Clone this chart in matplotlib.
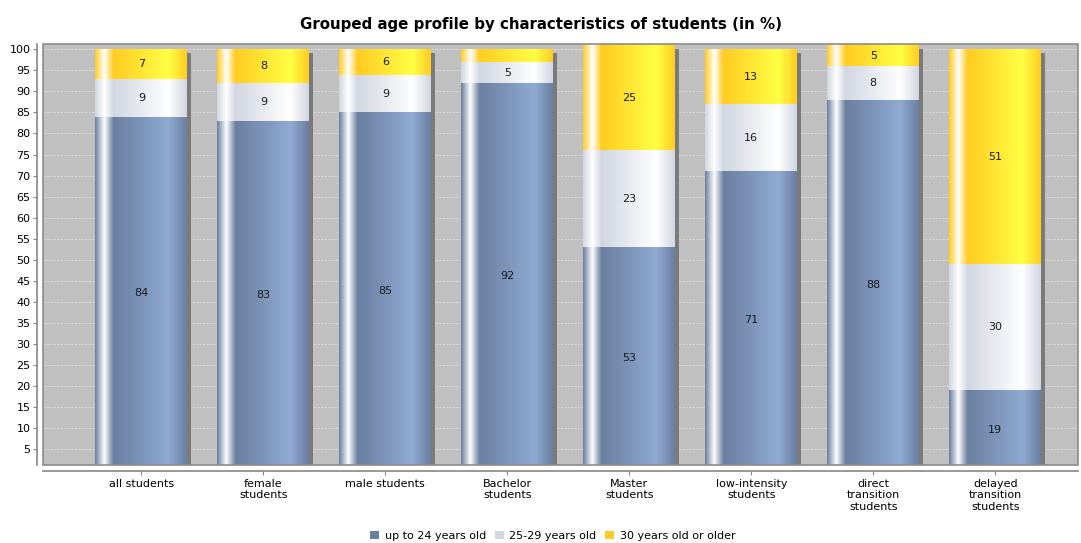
import numpy as np
import matplotlib
matplotlib.use("Agg")
import matplotlib.pyplot as plt
from matplotlib.patches import Patch, Rectangle

categories = ["all students", "female\nstudents", "male students", "Bachelor\nstudents",
              "Master\nstudents", "low-intensity\nstudents", "direct\ntransition\nstudents",
              "delayed\ntransition\nstudents"]
series_names = ["up to 24 years old", "25-29 years old", "30 years old or older"]
up_to_24 = [84, 83, 85, 92, 53, 71, 88, 19]
age_25_29 = [9, 9, 9, 5, 23, 16, 8, 30]
age_30_plus = [7, 8, 6, 3, 25, 13, 5, 51]

# base colour and its brighter variant for each series
base_colors = [(0.415, 0.498, 0.627), (0.82, 0.84, 0.88), (1.0, 0.80, 0.13)]
light_colors = [(0.565, 0.667, 0.827), (1.0, 1.0, 1.0), (1.0, 1.0, 0.27)]


def bar_gradient(c0, c1, n=200):
    # left highlight, then slow brighten, then fall off at the right edge
    t = np.linspace(0, 1, n)
    c0 = np.array(c0)
    c1 = np.array(c1)
    w = np.array([1.0, 1.0, 1.0])
    out = np.zeros((n, 3))
    for i, v in enumerate(t):
        if v < 0.10:
            f = v / 0.10
            out[i] = c0 + (w - c0) * f
        elif v < 0.20:
            f = (v - 0.10) / 0.10
            out[i] = w + (c0 - w) * f
        elif v < 0.80:
            f = (v - 0.20) / 0.60
            out[i] = c0 + (c1 - c0) * f
        else:
            f = (v - 0.80) / 0.20
            out[i] = c1 + (c0 - c1) * f
    return out[np.newaxis, :, :]


fig = plt.figure(figsize=(10.81, 5.43), dpi=100)
fig.patch.set_facecolor("white")
ax = fig.add_axes([43 / 1081, 1 - 465 / 543, 1035 / 1081, 421 / 543])
ax.set_facecolor("#c0c0c0")

ymin, ymax = 1.1, 101.3
xmin, xmax = -0.806, 7.678
ax.set_xlim(xmin, xmax)
ax.set_ylim(ymin, ymax)

px_x = (xmax - xmin) / 1035
px_y = (ymax - ymin) / 421
width = 0.754
x = np.arange(len(categories))
data = [up_to_24, age_25_29, age_30_plus]

for i in x:
    total = sum(s[i] for s in data)
    # shadow
    ax.add_patch(Rectangle((i - width / 2 + 4 * px_x, 0), width, total - 4 * px_y,
                           facecolor="#7a7a7a", edgecolor="none", zorder=2))
    bottom = 0
    for k, s in enumerate(data):
        v = s[i]
        grad = bar_gradient(base_colors[k], light_colors[k])
        ax.imshow(grad, extent=[i - width / 2, i + width / 2, bottom, bottom + v],
                  aspect="auto", zorder=3, interpolation="bilinear")
        if v >= 4:
            ax.text(i, bottom + v / 2, str(v), ha="center", va="center",
                    fontsize=8, color="#1a1a1a", zorder=5)
        bottom += v

ax.set_xlim(xmin, xmax)
ax.set_ylim(ymin, ymax)

ax.set_yticks(range(5, 101, 5))
ax.set_xticks(x)
ax.set_xticklabels(categories, linespacing=1.2)
ax.tick_params(axis="y", labelsize=8, length=3, color="#888888", pad=2)
ax.tick_params(axis="x", labelsize=8, length=3, color="#888888", pad=3)
ax.yaxis.grid(True, color="#e4e4e4", linestyle=(0, (3, 2)), linewidth=0.5)
ax.set_axisbelow(True)

for side in ["top", "right"]:
    ax.spines[side].set_visible(False)
ax.spines["left"].set_position(("outward", 4))
ax.spines["bottom"].set_position(("outward", 4))
for side in ["left", "bottom"]:
    ax.spines[side].set_color("#888888")
    ax.spines[side].set_linewidth(1.2)
ax.add_patch(Rectangle((0, 0), 1, 1, transform=ax.transAxes, fill=False,
                       edgecolor="#8c8c8c", linewidth=1.2, zorder=6, clip_on=False))

fig.text(0.5, 1 - 24 / 543, "Grouped age profile by characteristics of students (in %)",
         ha="center", va="center", fontsize=10.8, fontweight="bold")

handles = [Patch(facecolor=base_colors[k], edgecolor="none", label=series_names[k])
           for k in range(3)]
fig.legend(handles=handles, loc="center", bbox_to_anchor=(553 / 1081, 1 - 536 / 543),
           ncol=3, frameon=False, fontsize=8, handlelength=0.8, handleheight=0.8,
           handletextpad=0.5, columnspacing=0.8)

fig.savefig("out.png", dpi=100)
